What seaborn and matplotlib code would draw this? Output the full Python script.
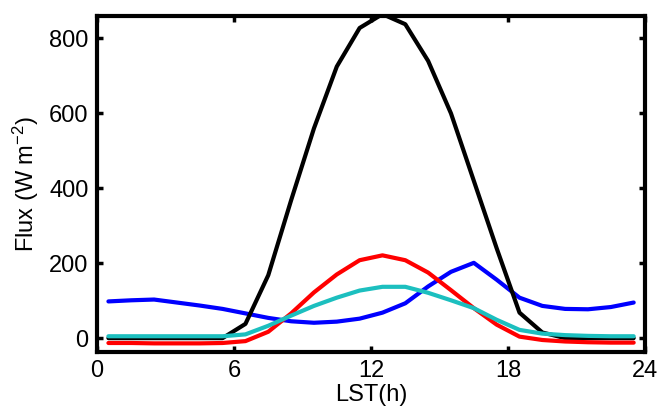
import numpy as np
import pandas as pd
import matplotlib
matplotlib.use("Agg")
import matplotlib.pyplot as plt
import seaborn as sns

# hourly values at half-hour local solar time
hours = [h + 0.5 for h in range(24)]

net_sw = [0, 0, 0, 0, 0, 0, 38, 168, 368, 560, 725, 828,
          865, 838, 740, 600, 420, 240, 68, 15, 0, 0, 0, 0]
net_lw = [98, 101, 103, 95, 87, 78, 66, 54, 45, 41, 44, 52,
          68, 93, 138, 177, 201, 156, 108, 86, 78, 77, 83, 95]
sensible = [-13, -13, -14, -14, -14, -13, -8, 17, 66, 122, 170, 208,
            221, 208, 175, 128, 80, 36, 4, -5, -9, -11, -12, -12]
latent = [5, 5, 5, 5, 5, 5, 10, 33, 60, 86, 108, 127,
          137, 137, 121, 101, 80, 49, 22, 12, 8, 6, 5, 5]

sns.set_style("ticks", {"axes.edgecolor": "black", "text.color": "black",
                        "axes.labelcolor": "black", "xtick.color": "black",
                        "ytick.color": "black"})
plt.rcParams["font.family"] = ["Liberation Sans", "DejaVu Sans"]
plt.rcParams["mathtext.fontset"] = "custom"
plt.rcParams["mathtext.rm"] = "Liberation Sans"
plt.rcParams["mathtext.it"] = "Liberation Sans"

fig = plt.figure(figsize=(6.58, 4.09), dpi=100)
ax = fig.add_axes([0.1474, 0.1394, 0.833, 0.8215])

lw = 3.0
sns.lineplot(x=hours, y=net_lw, color="#0000ff", lw=lw, ax=ax)
sns.lineplot(x=hours, y=net_sw, color="black", lw=lw, ax=ax)
sns.lineplot(x=hours, y=sensible, color="#ff0000", lw=lw, ax=ax)
sns.lineplot(x=hours, y=latent, color="#1cbfbf", lw=lw, ax=ax)

ax.set_xlim(0, 24)
ax.set_ylim(-37, 860)
ax.set_xticks([0, 6, 12, 18, 24])
ax.set_yticks([0, 200, 400, 600, 800])
ax.tick_params(direction="in", length=4, width=2.5, top=True, right=True,
               labelsize=17, pad=6, colors="black")
for s in ax.spines.values():
    s.set_linewidth(3)
    s.set_color("black")
    s.set_zorder(5)

ax.set_xlabel("LST(h)", fontsize=17, labelpad=1, color="black")
ax.set_ylabel("Flux (W m$^{-2}$)", fontsize=17, labelpad=6, color="black")

fig.savefig("out.png", dpi=100)
